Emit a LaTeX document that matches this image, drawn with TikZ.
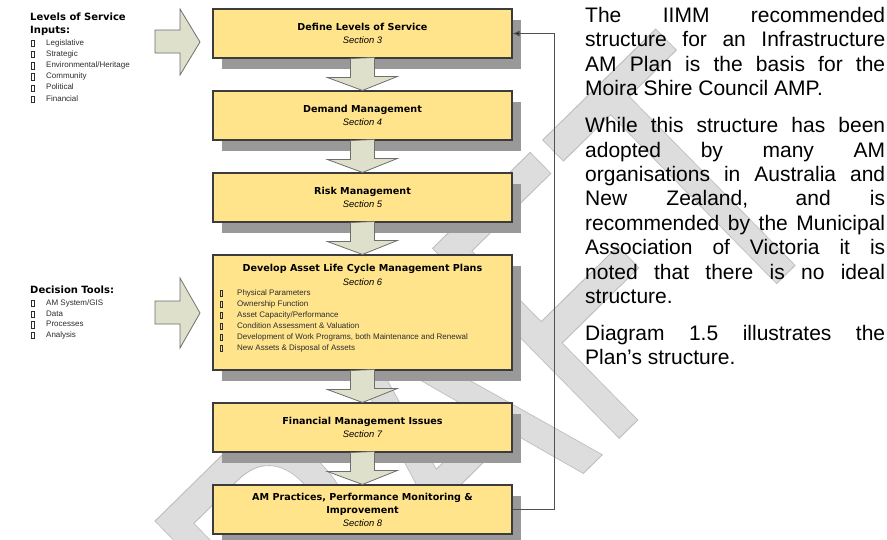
\documentclass[tikz,border=0pt]{standalone}
\usepackage{fontspec}
\usepackage{graphicx}
\setmainfont{Liberation Sans}
\newfontfamily\widefont{DejaVu Sans}
\usetikzlibrary{calc,shadows,arrows.meta}

\definecolor{boxfill}{RGB}{255,228,140}
\definecolor{boxline}{RGB}{60,60,60}
\definecolor{shadowgray}{RGB}{153,153,153}
\definecolor{arrowfill}{RGB}{222,224,204}
\definecolor{arrowline}{RGB}{110,110,110}
\definecolor{wmgray}{RGB}{221,221,221}
\definecolor{itemgray}{RGB}{45,45,45}
\definecolor{loopline}{RGB}{80,80,80}

\newcommand\titlefont{\widefont\bfseries\fontsize{9.6}{13}\selectfont}
\newcommand\secfont{\itshape\fontsize{9.4}{13}\selectfont}
\newcommand\headfont{\widefont\bfseries\fontsize{10}{13.5}\selectfont}
% letters filled and stroked with a slightly darker rim
\newcommand\rimtext[1]{\special{pdf:literal direct 2 Tr 0.74 G 0.9 w}#1\special{pdf:literal direct 0 Tr}}

% block arrow from the bottom of one stage to the top of the next
\newcommand\flowarrow[2]{%
  \draw[blockarrow] ($(#1.south)+(-12,0)$) -- ++(0,19) -- ++(-23,0)
    -- (#2.north) -- ++(35,-14) -- ++(-23,0) -- ++(0,-19) -- cycle;}

\tikzset{
  stagebox/.style={draw=boxline, fill=boxfill, line width=1.1pt,
    minimum width=299pt, minimum height=49pt, inner sep=0pt, align=center,
    font=\fontsize{9.5}{13}\selectfont,
    general shadow={fill=shadowgray, shadow xshift=9pt, shadow yshift=-11pt}},
  blockarrow/.style={draw=arrowline, fill=arrowfill, line width=0.8pt, line join=miter},
  itemtext/.style={inner sep=0pt, anchor=west, text=itemgray,
    font=\fontsize{8}{10}\selectfont, text height=6pt, text depth=1.8pt},
  bulletmark/.style={draw=itemgray, line width=0.55pt},
  headtext/.style={inner sep=0pt, anchor=west, align=left, font=\headfont},
  feedback/.style={draw=loopline, line width=1.1pt, -{Latex[length=7pt,width=6pt,fill=black]}},
  paratext/.style={inner sep=0pt, anchor=north west, text width=300pt, align=justify,
    font=\fontsize{21}{24.4}\selectfont},
  watermark/.style={rotate=44.5, anchor=north west, inner sep=0pt, text=wmgray,
    font=\fontsize{387}{387}\selectfont}
}

\begin{document}
\begin{tikzpicture}[x=1pt, y=-1pt]
\useasboundingbox (0,0) rectangle (887,539);
\fill[white] (0,0) rectangle (887,539);

% faint diagonal watermark behind the page content
\begin{scope}
  \clip (0,0) rectangle (887,539);
  \node[watermark] (wm) at (-6,679) {\rimtext{\scalebox{0.724}[1]{DRAFT}}};
\end{scope}

% the six stages
\node[stagebox] (b1) at (362.5,33.5) {{\titlefont Define Levels of Service}\\{\secfont Section 3}};
\node[stagebox] (b2) at (362.5,115.5) {{\titlefont Demand Management}\\{\secfont Section 4}};
\node[stagebox] (b3) at (362.5,197.5) {{\titlefont Risk Management}\\{\secfont Section 5}};
\node[stagebox, minimum height=115pt] (b4) at (362.5,312.5) {};
\node[stagebox] (b5) at (362.5,427.5) {{\titlefont Financial Management Issues}\\{\secfont Section 7}};
\node[stagebox] (b6) at (362.5,509.5) {{\titlefont AM Practices, Performance Monitoring \&}\\{\titlefont Improvement}\\{\secfont Section 8}};

% contents of the life cycle stage
\node[inner sep=0pt, font=\titlefont] (b4t) at (362.5,269) {Develop Asset Life Cycle Management Plans};
\node[inner sep=0pt, font=\secfont] (b4s) at (362.5,282) {Section 6};
\foreach \t [count=\i] in {Physical Parameters, Ownership Function, Asset Capacity/Performance,
    Condition Assessment \& Valuation, {Development of Work Programs, both Maintenance and Renewal},
    New Assets \& Disposal of Assets} {
  \node[itemtext] (p\i) at (237,{293+11.1*(\i-1)}) {\t};
  \draw[bulletmark] (220,{293+11.1*(\i-1)-3}) rectangle (222.4,{293+11.1*(\i-1)+3.2});
}

% flow between stages
\flowarrow{b1}{b2}
\flowarrow{b2}{b3}
\flowarrow{b3}{b4}
\flowarrow{b4}{b5}
\flowarrow{b5}{b6}

% feedback loop
\draw[feedback] (b6.east) -- ++(42,0) |- (b1.east);

% inputs on the left
\node[headtext] (h1) at (30,24) {Levels of Service\\Inputs:};
\foreach \t [count=\i] in {Legislative, Strategic, Environmental/Heritage, Community, Political, Financial} {
  \node[itemtext] (l\i) at (46,{43.3+11.14*(\i-1)}) {\t};
  \draw[bulletmark] (31.5,{43.3+11.14*(\i-1)-3}) rectangle (33.9,{43.3+11.14*(\i-1)+3.2});
}
\draw[blockarrow] (155,30) -- (180,30) -- (180,9) -- (200,42) -- (180,75) -- (180,53) -- (155,53) -- cycle;

\node[headtext] (h2) at (30,290) {Decision Tools:};
\foreach \t [count=\i] in {AM System/GIS, Data, Processes, Analysis} {
  \node[itemtext] (d\i) at (46,{303.3+10.7*(\i-1)}) {\t};
  \draw[bulletmark] (31.5,{303.3+10.7*(\i-1)-3}) rectangle (33.9,{303.3+10.7*(\i-1)+3.2});
}
\draw[blockarrow] (155,301) -- (180,301) -- (180,278) -- (200,313) -- (180,348) -- (180,324) -- (155,324) -- cycle;

% explanatory text
\node[paratext] (para) at (585,7) {\tolerance=10000\hbadness=10000\parindent=0pt\parskip=12.6pt
The IIMM recommended\linebreak structure for an Infrastructure\linebreak AM Plan is the basis for the\linebreak Moira Shire Council AMP.\par
While this structure has been\linebreak adopted by many AM\linebreak organisations in Australia and\linebreak New Zealand, and is\linebreak recommended by the Municipal\linebreak Association of Victoria it is\linebreak noted that there is no ideal\linebreak structure.\par
Diagram 1.5 illustrates the\linebreak Plan’s structure.};
\end{tikzpicture}
\end{document}
